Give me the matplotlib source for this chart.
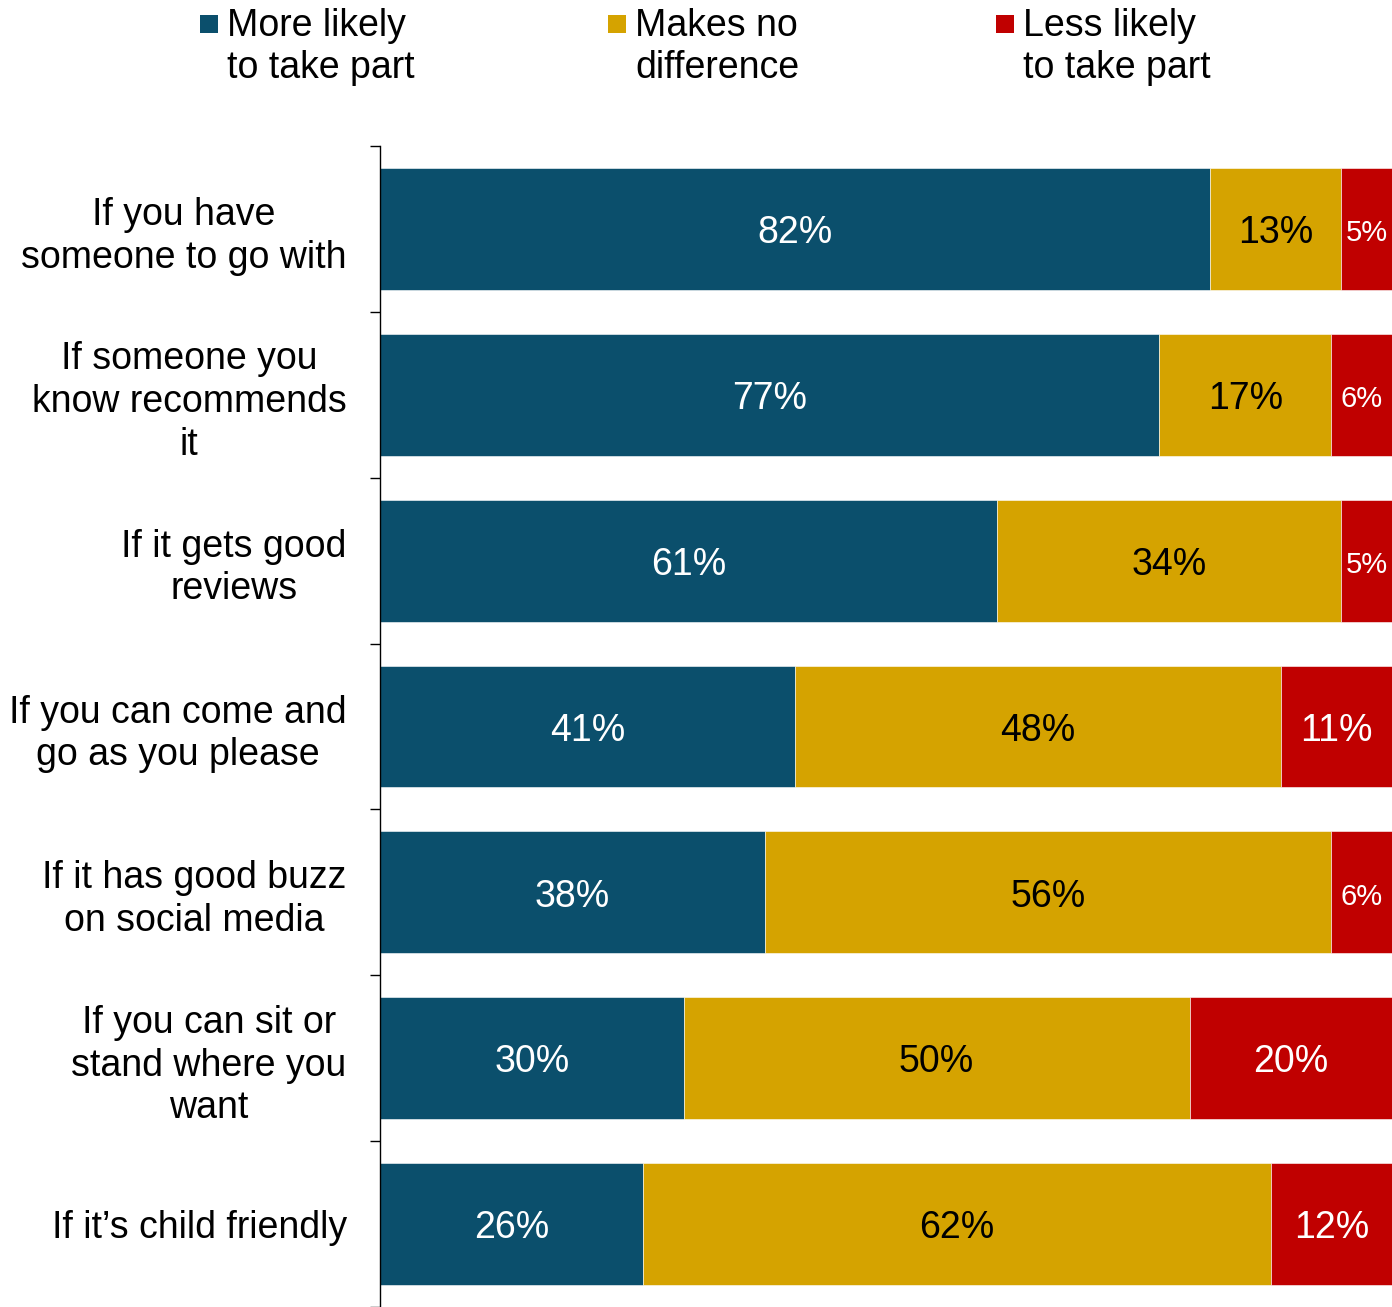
import matplotlib
matplotlib.use("Agg")
import matplotlib.pyplot as plt
from matplotlib.patches import Rectangle

plt.rcParams["font.family"] = ["Liberation Sans", "DejaVu Sans"]

categories = [
    "If you have\nsomeone to go with",
    "If someone you\nknow recommends\nit",
    "If it gets good\nreviews",
    "If you can come and\ngo as you please",
    "If it has good buzz\non social media",
    "If you can sit or\nstand where you\nwant",
    "If it\u2019s child friendly",
]
more_likely = [82, 77, 61, 41, 38, 30, 26]
no_difference = [13, 17, 34, 48, 56, 50, 62]
less_likely = [5, 6, 5, 11, 6, 20, 12]

series_names = ["More likely\nto take part", "Makes no\ndifference", "Less likely\nto take part"]
colors = ["#0B4F6C", "#D5A300", "#C00000"]
text_colors = ["white", "black", "white"]

W, H = 1392, 1307
fig = plt.figure(figsize=(W / 100, H / 100), dpi=100)
ax = fig.add_axes([380 / W, 0, 1 - 380 / W, 1 - 146 / H])

ypos = list(range(len(categories)))
left = [0] * len(categories)
for vals, col, tcol in zip([more_likely, no_difference, less_likely], colors, text_colors):
    ax.barh(ypos, vals, left=left, height=0.735, color=col,
            edgecolor="white", linewidth=0.4)
    for y, v, l in zip(ypos, vals, left):
        fs = 21 if v < 10 else 27
        ax.text(l + v / 2, y + 0.025, f"{v}%", ha="center", va="center",
                color=tcol, fontsize=fs)
    left = [l + v for l, v in zip(left, vals)]

ax.set_xlim(0, 100)
ax.set_ylim(len(categories) - 0.5, -0.5)
ax.set_xticks([])
ax.set_yticks(ypos)
ax.set_yticklabels(categories, fontsize=27, multialignment="center",
                   linespacing=1.24)
ax.set_yticks([y - 0.5 for y in ypos] + [len(categories) - 0.5], minor=True)
ax.tick_params(axis="y", which="major", length=0, pad=24)
ax.tick_params(axis="y", which="minor", length=7, width=1, direction="out")
for side in ["top", "right", "bottom"]:
    ax.spines[side].set_visible(False)
ax.spines["left"].set_linewidth(1)

# legend drawn by hand so the swatch sits on the first line
legend_x = [200, 608, 996]
for x0, name, col in zip(legend_x, series_names, colors):
    fig.patches.append(Rectangle((x0 / W, 1 - 33 / H), 18 / W, 18 / H,
                                 transform=fig.transFigure, facecolor=col,
                                 edgecolor="none"))
    fig.text((x0 + 27) / W, 1 - 8 / H, name, ha="left", va="top",
             fontsize=27, linespacing=1.2)

fig.savefig("out.png", dpi=100)
